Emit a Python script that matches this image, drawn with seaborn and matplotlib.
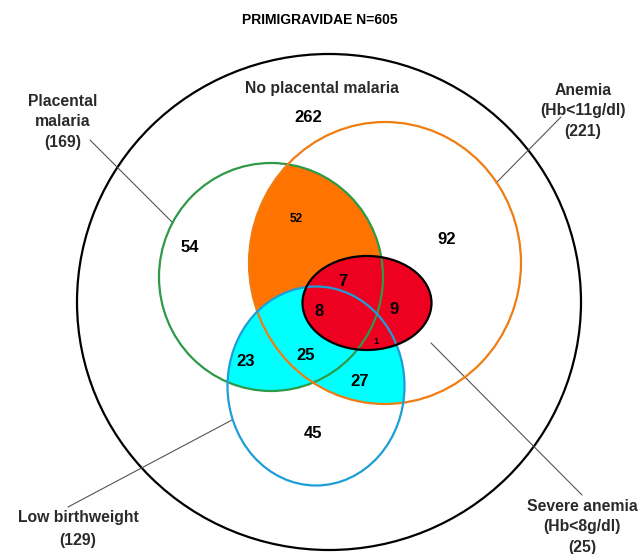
import matplotlib
matplotlib.use("Agg")
import matplotlib.pyplot as plt
from matplotlib.patches import Ellipse
import seaborn as sns

sns.set_theme(style="white")
plt.rcParams['font.family'] = ['Liberation Sans', 'DejaVu Sans']

# ---- data ----
title = "PRIMIGRAVIDAE N=605"
region_names = ["none", "pm_only", "pm_anemia", "anemia_only", "pm_an_sev", "pm_an_lbw_sev",
                "an_sev", "an_lbw_sev", "pm_lbw", "pm_an_lbw", "an_lbw", "lbw_only"]
region_counts = [262, 54, 52, 92, 7, 8, 9, 1, 23, 25, 27, 45]
set_labels = ["No placental malaria", "Placental\nmalaria\n(169)", "Anemia\n(Hb<11g/dl)\n(221)",
              "Low birthweight\n(129)", "Severe anemia\n(Hb<8g/dl)\n(25)"]

# ---- layout (pixel coordinates) ----
region_pos = [(308, 118), (190, 248), (296, 219), (447, 240), (343, 281), (319, 312),
              (394, 309), (376, 342), (246, 362), (306, 356), (360, 382), (313, 433)]
region_size = [12, 12, 8.5, 12, 12, 12, 12, 6.5, 12, 12, 12, 12]
label_pos = [(322, 88), (63, 122), (583, 111), (78, 529), (582, 527)]
label_ls = [1.2, 1.45, 1.45, 1.65, 1.45]

fig = plt.figure(figsize=(6.4, 5.54), dpi=100)
ax = fig.add_axes([0, 0, 1, 1])
ax.set_xlim(0, 640)
ax.set_ylim(554, 0)
ax.set_aspect('equal')
ax.axis('off')

outer = dict(xy=(329, 302), width=504, height=496)
green = dict(xy=(271, 277), width=224, height=228)
orange = dict(xy=(385, 263), width=272, height=282)
cyan = dict(xy=(316, 386), width=177, height=199)
red = dict(xy=(367, 303), width=129, height=94)

# clip patches (invisible)
g_clip = Ellipse(**green, fill=False, lw=0, edgecolor='none'); ax.add_patch(g_clip)
o_clip = Ellipse(**orange, fill=False, lw=0, edgecolor='none'); ax.add_patch(o_clip)

# fills
f1 = Ellipse(**green, facecolor='#FF7300', edgecolor='none', zorder=1)
ax.add_patch(f1); f1.set_clip_path(o_clip)
f2 = Ellipse(**cyan, facecolor='#00FFFF', edgecolor='none', zorder=2)
ax.add_patch(f2); f2.set_clip_path(g_clip)
f3 = Ellipse(**cyan, facecolor='#00FFFF', edgecolor='none', zorder=2)
ax.add_patch(f3); f3.set_clip_path(o_clip)
ax.add_patch(Ellipse(**red, facecolor='#EE0020', edgecolor='none', zorder=3))

# outlines
ax.add_patch(Ellipse(**outer, fill=False, edgecolor='black', lw=1.6, zorder=4))
ax.add_patch(Ellipse(**green, fill=False, edgecolor='#2E9A48', lw=1.6, zorder=5))
ax.add_patch(Ellipse(**orange, fill=False, edgecolor='#EF7D12', lw=1.6, zorder=5))
ax.add_patch(Ellipse(**cyan, fill=False, edgecolor='#1E9ED6', lw=1.6, zorder=5))
ax.add_patch(Ellipse(**red, fill=False, edgecolor='black', lw=1.6, zorder=6))

# leader lines
for (x0, y0, x1, y1) in [(90, 140, 172, 222), (561, 117, 496, 183),
                         (68, 507, 232, 420), (582, 495, 431, 343)]:
    ax.plot([x0, x1], [y0, y1], color='#555555', lw=0.8, zorder=4)

for v, (x, y), s in zip(region_counts, region_pos, region_size):
    ax.text(x, y, str(v), ha='center', va='center', fontsize=s, fontweight='bold',
            color='black', zorder=7)

for lab, (x, y), ls in zip(set_labels, label_pos, label_ls):
    ax.text(x, y, lab, ha='center', va='center', fontsize=11.3, fontweight='bold',
            color='#2a2a2a', linespacing=ls, zorder=7)

ax.text(320, 20, title, ha='center', va='center', fontsize=10, fontweight='bold', color='black')

fig.savefig("out.png", dpi=100, facecolor='white')
